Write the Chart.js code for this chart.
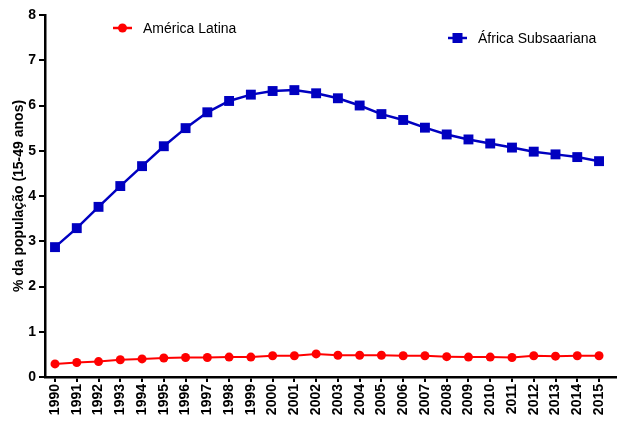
<!DOCTYPE html>
<html>
<head>
<meta charset="utf-8">
<script src="https://cdn.jsdelivr.net/npm/chart.js@4/dist/chart.umd.min.js"></script>
<style>
  html, body { margin: 0; padding: 0; background: #fff; }
  #wrap { width: 623px; height: 423px; }
</style>
</head>
<body>
<div id="wrap"><canvas id="hivChart" width="623" height="423"></canvas></div>
<script>
// Anos e prevalência (% da população 15-49 anos)
const years = [1990, 1991, 1992, 1993, 1994, 1995, 1996, 1997, 1998, 1999, 2000, 2001, 2002,
               2003, 2004, 2005, 2006, 2007, 2008, 2009, 2010, 2011, 2012, 2013, 2014, 2015];
const latinAmerica = [0.29, 0.32, 0.34, 0.38, 0.40, 0.42, 0.43, 0.43, 0.44, 0.44, 0.47, 0.47, 0.51,
                      0.48, 0.48, 0.48, 0.47, 0.47, 0.45, 0.44, 0.44, 0.43, 0.47, 0.46, 0.47, 0.47];
const subSaharan = [2.87, 3.29, 3.76, 4.22, 4.66, 5.10, 5.50, 5.85, 6.10, 6.24, 6.32, 6.34, 6.27,
                    6.16, 6.00, 5.81, 5.68, 5.51, 5.36, 5.25, 5.16, 5.07, 4.98, 4.92, 4.86, 4.77];
const yTicks = [0, 1, 2, 3, 4, 5, 6, 7, 8];
const seriesNames = ['América Latina', 'África Subsaariana'];
const yTitle = '% da população (15-49 anos)';

const RED = '#ff0000';
const BLUE = '#0000c0';
const FONT = '"Liberation Sans", Arial, Helvetica, sans-serif';

// Each legend entry sits at its own spot, like the original figure
const floatingLegend = {
    id: 'floatingLegend',
    afterDraw(chart) {
        const ctx = chart.ctx;
        const entries = [
            { x: 113, y: 28, color: RED, style: 'circle', text: seriesNames[0] },
            { x: 448, y: 38, color: BLUE, style: 'rect', text: seriesNames[1] }
        ];
        ctx.save();
        entries.forEach(e => {
            ctx.strokeStyle = e.color;
            ctx.fillStyle = e.color;
            ctx.lineWidth = 2.5;
            ctx.beginPath();
            ctx.moveTo(e.x, e.y);
            ctx.lineTo(e.x + 19, e.y);
            ctx.stroke();
            if (e.style === 'circle') {
                ctx.beginPath();
                ctx.arc(e.x + 9.5, e.y, 4.5, 0, Math.PI * 2);
                ctx.fill();
            } else {
                ctx.fillRect(e.x + 4.5, e.y - 5, 10, 10);
            }
            ctx.fillStyle = '#000';
            ctx.font = '14px ' + FONT;
            ctx.textBaseline = 'middle';
            ctx.textAlign = 'left';
            ctx.fillText(e.text, e.x + 30, e.y + 1);
        });
        ctx.restore();
    }
};

const ctx = document.getElementById('hivChart').getContext('2d');
new Chart(ctx, {
    type: 'line',
    data: {
        datasets: [{
            label: seriesNames[0],
            data: years.map((yr, i) => ({ x: yr, y: latinAmerica[i] })),
            borderColor: RED,
            backgroundColor: RED,
            borderWidth: 2,
            pointStyle: 'circle',
            pointRadius: 4.5,
            pointBorderWidth: 0,
            tension: 0
        }, {
            label: seriesNames[1],
            data: years.map((yr, i) => ({ x: yr, y: subSaharan[i] })),
            borderColor: BLUE,
            backgroundColor: BLUE,
            borderWidth: 2.5,
            pointStyle: 'rect',
            pointRadius: 7,
            pointBorderWidth: 0,
            tension: 0
        }]
    },
    options: {
        responsive: false,
        animation: false,
        layout: { padding: { top: 15, right: 0, left: 0, bottom: 0 } },
        plugins: {
            legend: { display: false },
            tooltip: { enabled: false }
        },
        scales: {
            x: {
                type: 'linear',
                min: 1989.54,
                max: 2015.78,
                afterBuildTicks: scale => {
                    scale.ticks = years.map(v => ({ value: v }));
                },
                afterFit: scale => { scale.height = 46; },
                grid: { drawOnChartArea: false, drawTicks: true, tickLength: 5, color: '#000', lineWidth: 2 },
                border: { display: true, color: '#000', width: 2.5 },
                ticks: {
                    color: '#000',
                    autoSkip: false,
                    maxRotation: 90,
                    minRotation: 90,
                    padding: 2,
                    font: { family: FONT, size: 14, weight: 'bold' },
                    callback: v => String(v)
                }
            },
            y: {
                min: 0,
                max: 8,
                afterBuildTicks: scale => {
                    scale.ticks = yTicks.map(v => ({ value: v }));
                },
                afterFit: scale => { scale.width = 45; },
                grid: { drawOnChartArea: false, drawTicks: true, tickLength: 6, color: '#000', lineWidth: 2 },
                border: { display: true, color: '#000', width: 2.5 },
                title: {
                    display: true,
                    text: yTitle,
                    color: '#000',
                    padding: { top: 11, bottom: 0 },
                    font: { family: FONT, size: 14, weight: 'bold' }
                },
                ticks: {
                    color: '#000',
                    padding: 3,
                    font: { family: FONT, size: 14, weight: 'bold' }
                }
            }
        }
    },
    plugins: [floatingLegend]
});
</script>
</body>
</html>
